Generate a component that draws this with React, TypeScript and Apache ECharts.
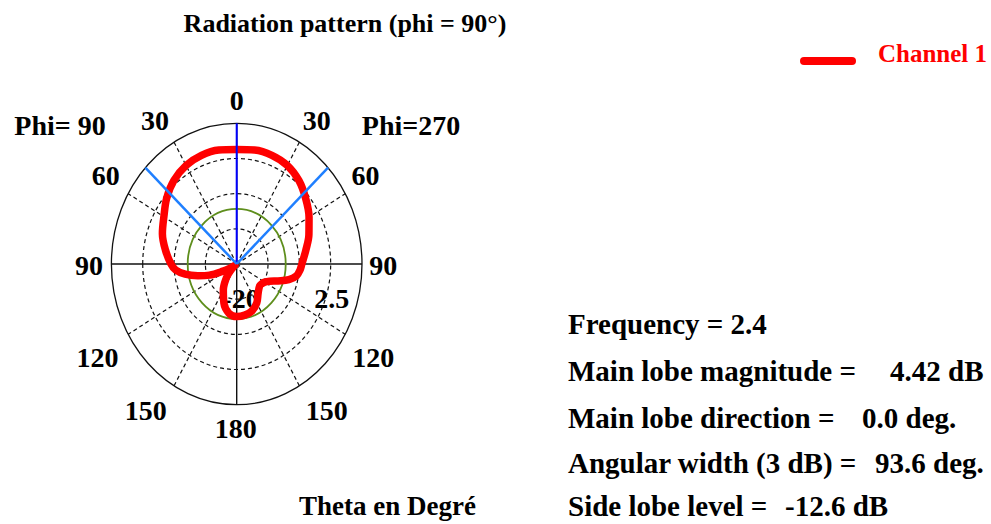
import React, { useEffect, useRef } from "react";
import * as echarts from "echarts";

// ---- data ----
// theta (deg, clockwise from top; right side = Phi 270, left side = Phi 90)
const thetaDeg = [
  0, 10, 20, 30, 40, 50, 60, 70, 80, 90, 95, 100, 105, 110, 115, 120, 125, 130, 140, 150, 160, 170, 180,
  -170, -160, -150, -140, -135, -130, -125, -120, -115, -110, -105, -100, -95, -90, -80, -70, -60, -50, -40, -30, -20, -10,
];
// gain (dB)
const gainDb = [
  -1.7, -1.5, -1.5, -1.8, -2.6, -3.8, -5.0, -6.2, -7.4, -8.3, -8.6, -9.1, -10.3, -12.1, -13.5, -14.2, -14.5, -14.6, -14.0, -12.8, -12.0, -11.7, -11.6,
  -12.0, -13.3, -15.2, -17.1, -18.2, -19.1, -19.6, -18.9, -17.3, -14.8, -12.8, -10.6, -9.0, -8.2, -7.0, -5.8, -4.9, -3.6, -2.5, -1.8, -1.5, -1.5,
];
const radialMin = -20;
const radialMax = 2.5;
const radialLabels = ["-20", "2.5"];
const ringFractions = [0.25, 0.5, 0.75];
const dashedSpokes = [30, 60, 120, 150, -30, -60, -120, -150];
const angleTickLabels = ["0", "30", "60", "90", "120", "150", "180", "150", "120", "90", "60", "30"];
const referenceRingDb = -11.2;
const seriesName = "Channel 1";

const infoLabels = [
  "Frequency = 2.4",
  "Main lobe magnitude =",
  "Main lobe direction =",
  "Angular width (3 dB) =",
  "Side lobe level =",
];
const infoValues = ["", "4.42 dB", "0.0 deg.", "93.6 deg.", "-12.6 dB"];
const mainLobeDirection = 0.0;
const angularWidth = 93.6;

// ---- layout (pixels) ----
const angleLabelPos: [number, number][] = [
  [236.7, 100.5], [316.7, 120], [365.5, 175], [383.3, 265], [373.3, 357.5], [326.7, 410.8],
  [235.8, 428.3], [145.8, 410.8], [97.5, 357.5], [89, 265], [105.8, 175], [155, 120],
];
const radialLabelPos: [number, number][] = [[241, 298.3], [331.7, 298.3]];
const infoLabelY = [324, 371, 417.5, 462.5, 506];
const infoValueX = [0, 890, 862, 875, 785];

const FONT = '"Liberation Serif", "Times New Roman", serif';

const toXY = (deg: number, r: number): [number, number] => {
  const a = (deg * Math.PI) / 180;
  return [r * Math.sin(a), r * Math.cos(a)];
};
const norm = (db: number) => (db - radialMin) / (radialMax - radialMin);

export default function App() {
  const ref = useRef<HTMLDivElement>(null);
  useEffect(() => {
    if (!ref.current) return;
    const chart = echarts.init(ref.current, undefined, { renderer: "svg" });

    const curve = thetaDeg.map((t, i) => toXY(t, norm(gainDb[i])));
    curve.push(curve[0]);

    const ellipseItem = (stroke: string, width: number, dash: number[] | null) =>
      (params: any, api: any) => {
        const c = api.coord([0, 0]);
        const r = api.value(2);
        const s = api.size([r, r]);
        return {
          type: "ellipse",
          shape: { cx: c[0], cy: c[1], rx: s[0], ry: s[1] },
          style: { fill: "none", stroke, lineWidth: width, lineDash: dash || undefined },
        };
      };

    const spokeItem = (stroke: string, width: number, dash: number[] | null) =>
      (params: any, api: any) => {
        const p0 = api.coord([api.value(0), api.value(1)]);
        const p1 = api.coord([api.value(2), api.value(3)]);
        return {
          type: "line",
          shape: { x1: p0[0], y1: p0[1], x2: p1[0], y2: p1[1] },
          style: { stroke, lineWidth: width, lineDash: dash || undefined },
        };
      };

    const txt = (text: string, x: number, y: number, size: number, align = "center", fill = "#000") => ({
      type: "text",
      x,
      y,
      style: { text, font: `bold ${size}px ${FONT}`, fill, align, verticalAlign: "middle" },
    });

    const graphics: any[] = [];
    graphics.push(txt("Radiation pattern (phi = 90\u00b0)", 345, 23, 26));
    graphics.push(txt("Phi= 90", 60, 125, 28));
    graphics.push(txt("Phi=270", 411, 125, 28));
    angleTickLabels.forEach((t, i) => graphics.push(txt(t, angleLabelPos[i][0], angleLabelPos[i][1], 28)));
    radialLabels.forEach((t, i) => graphics.push(txt(t, radialLabelPos[i][0], radialLabelPos[i][1], 28)));
    graphics.push(txt("Theta en Degr\u00e9", 387.5, 506, 27));
    infoLabels.forEach((t, i) => {
      graphics.push(txt(t, 568, infoLabelY[i], 29, "left"));
      if (infoValues[i]) graphics.push(txt(infoValues[i], infoValueX[i], infoLabelY[i], 29, "left"));
    });
    // legend
    graphics.push({
      type: "rect",
      shape: { x: 800, y: 57, width: 56, height: 8, r: 4 },
      style: { fill: "#ff0000" },
    });
    graphics.push(txt(seriesName, 878, 53, 25, "left", "#ff0000"));

    const half = angularWidth / 2;
    const option: any = {
      animation: false,
      backgroundColor: "#fff",
      grid: { left: 111.4, top: 123.3, width: 250.6, height: 281.4, containLabel: false },
      xAxis: { type: "value", min: -1, max: 1, show: false },
      yAxis: { type: "value", min: -1, max: 1, show: false },
      graphic: graphics,
      series: [
        {
          type: "custom", name: "rings", coordinateSystem: "cartesian2d", silent: true, clip: false, z: 1,
          data: ringFractions.map((f) => [0, 0, f]),
          renderItem: ellipseItem("#111", 1.2, [4, 3]),
        },
        {
          type: "custom", name: "outer", coordinateSystem: "cartesian2d", silent: true, clip: false, z: 1,
          data: [[0, 0, 1]],
          renderItem: ellipseItem("#111", 1.3, null),
        },
        {
          type: "custom", name: "spokes", coordinateSystem: "cartesian2d", silent: true, clip: false, z: 1,
          data: dashedSpokes.map((a) => [0, 0, ...toXY(a, 1)]),
          renderItem: spokeItem("#111", 1.2, [4, 3]),
        },
        {
          type: "custom", name: "axes", coordinateSystem: "cartesian2d", silent: true, clip: false, z: 1,
          data: [
            [...toXY(-90, 1), ...toXY(90, 1)],
            [0, 0, ...toXY(180, 1)],
            [0, 0, ...toXY(0, 1)],
          ],
          renderItem: spokeItem("#111", 1.4, null),
        },
        {
          type: "custom", name: "reference", coordinateSystem: "cartesian2d", silent: true, clip: false, z: 2,
          data: [[0, 0, norm(referenceRingDb)]],
          renderItem: ellipseItem("#5e8e1c", 1.8, null),
        },
        {
          type: "line", name: seriesName, data: curve, showSymbol: false, symbol: "none", smooth: 0.35, z: 3,
          clip: false,
          lineStyle: { color: "#ff0000", width: 7.5, cap: "round", join: "round" },
          itemStyle: { color: "#ff0000" },
        },
        {
          type: "line", name: "beam", data: [[0, 0], toXY(mainLobeDirection, 1)], symbol: "none", z: 4, clip: false,
          lineStyle: { color: "#0000ff", width: 2 },
        },
        {
          type: "line", name: "beamL", data: [[0, 0], toXY(mainLobeDirection - half, 1)], symbol: "none", z: 4, clip: false,
          lineStyle: { color: "#1f7fff", width: 2.5 },
        },
        {
          type: "line", name: "beamR", data: [[0, 0], toXY(mainLobeDirection + half, 1)], symbol: "none", z: 4, clip: false,
          lineStyle: { color: "#1f7fff", width: 2.5 },
        },
      ],
    };
    chart.setOption(option);
    return () => chart.dispose();
  }, []);

  return (
    <div
      ref={ref}
      style={{ position: "absolute", left: 0, top: 0, width: 991, height: 524, background: "#fff" }}
    />
  );
}
